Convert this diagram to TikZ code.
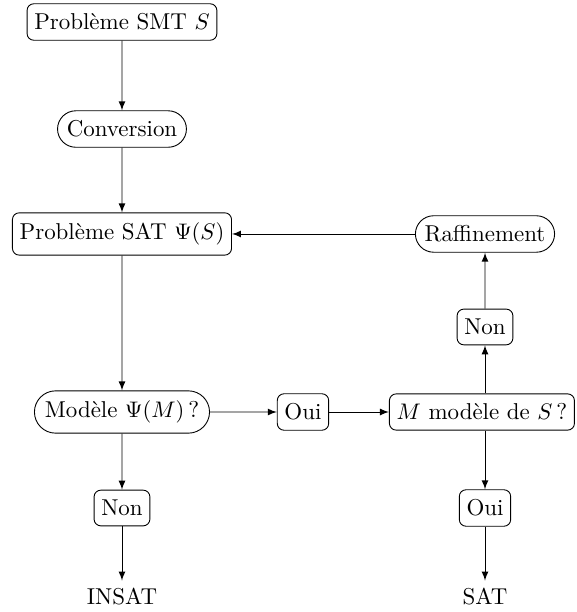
\documentclass[tikz,border=0pt]{standalone}
\usepackage{tikz}
\usetikzlibrary{shapes.misc,arrows}
\tikzset{every path/.style={black,thin}, every node/.style={font=\fontsize{10.2}{12}\selectfont}, boite/.style={draw, rounded corners=3pt, inner xsep=3.2pt, inner ysep=4.4pt}, pilule/.style={draw, rounded rectangle, inner xsep=3.2pt, inner ysep=4.4pt}, fl/.style={-latex}}

\begin{document}
\begin{tikzpicture}
  \useasboundingbox (0,0) rectangle (9,-9.5625);
  \node[boite]  (a) at (1.906,-0.344) {Probl\`eme SMT $S$};
  \node[pilule] (b) at (1.906,-2.016) {Conversion};
  \node[boite]  (c) at (1.906,-3.656) {Probl\`eme SAT $\Psi(S)$};
  \node[pilule] (r) at (7.578,-3.656) {Raffinement};
  \node[boite]  (n) at (7.578,-5.109) {Non};
  \node[pilule] (d) at (1.906,-6.4375) {Mod\`ele $\Psi(M)$\,?};
  \node[boite]  (o) at (4.734,-6.4375) {Oui};
  \node[boite]  (m) at (7.53,-6.4375) {$M$ mod\`ele de $S$\,?};
  \node[boite]  (e) at (1.906,-7.9375) {Non};
  \node[boite]  (f) at (7.578,-7.9375) {Oui};
  \node         (i) at (1.906,-9.328) {INSAT};
  \node         (s) at (7.578,-9.328) {SAT};

  \draw[fl] (a) -- (b);
  \draw[fl] (b) -- (c);
  \draw[fl] (c) -- (d);
  \draw[fl] (d) -- (o);
  \draw[fl] (o) -- (m);
  \draw[fl] (m.north -| n) -- (n);
  \draw[fl] (n) -- (r);
  \draw[fl] (r) -- (c);
  \draw[fl] (m.south -| f) -- (f);
  \draw[fl] (d) -- (e);
  \draw[fl] (e) -- (i);
  \draw[fl] (f) -- (s);
 \end{tikzpicture}
\end{document}
